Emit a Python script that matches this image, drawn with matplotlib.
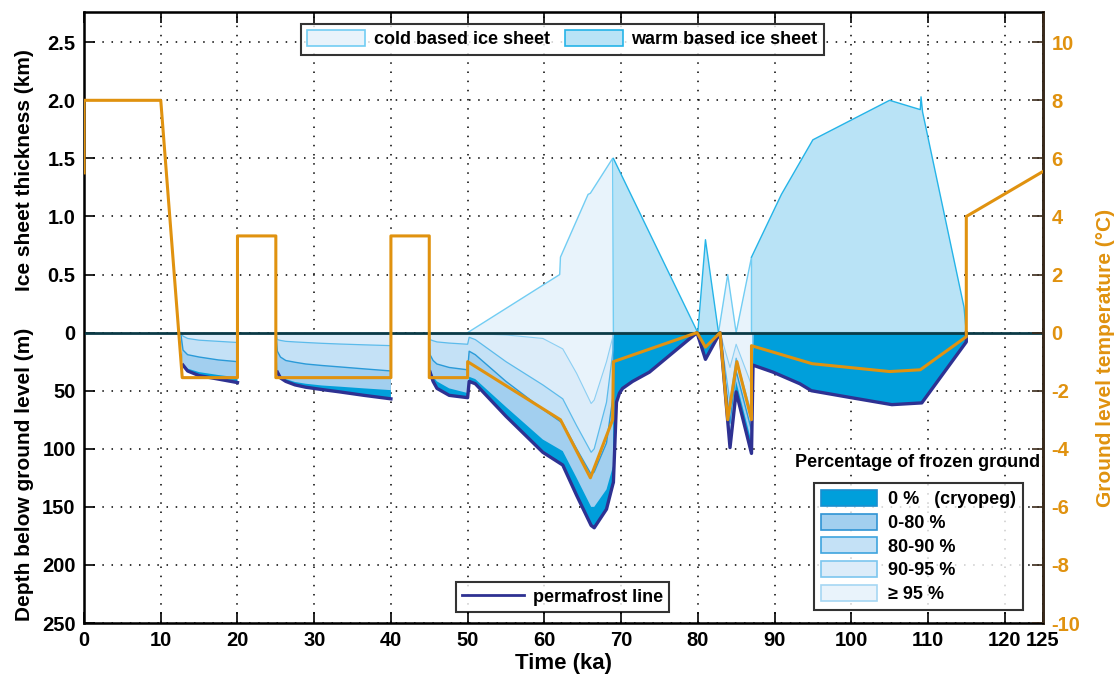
import numpy as np
import matplotlib.pyplot as plt
from matplotlib.patches import Patch
from matplotlib.lines import Line2D

plt.rcParams['font.family'] = ['Liberation Sans', 'DejaVu Sans']
plt.rcParams['font.weight'] = 'bold'
plt.rcParams['axes.unicode_minus'] = False

nan = np.nan

# ice sheet thickness (km)
cold_t = [50, 62.0, 62.1, 65.7, 66.0, 68.9, 69.0]
cold_h = [0, 0.50, 0.65, 1.19, 1.20, 1.50, 0]
cold2_t = [82.7, 83.9, 85.0, 87.0, 87.0]
cold2_h = [0, 0.50, 0, 0.65, 0]
warm_t = [69.0, 80.0, 81.0, 82.7, nan, 87.0, 90.9, 95.0, 105.0, 109.0, 109.1, 109.3, 114.7, 115.0]
warm_h = [1.50, 0, 0.80, 0, nan, 0.65, 1.19, 1.66, 2.00, 1.92, 2.03, 1.90, 0.22, 0]

# ground level temperature (degC)
temp_t = [0, 0, 10, 12.8, 20, 20, 25, 25, 40, 40, 45, 45, 50, 50, 62.1, 66.0, 68.9, 69.0,
          79.9, 81.0, 82.9, 83.9, 85.1, 87.0, 87.0, 94.9, 105.0, 109.0, 115.0, 115.0, 125]
temp = [5.5, 8.0, 8.0, -1.55, -1.55, 3.33, 3.33, -1.55, -1.55, 3.33, 3.33, -1.55, -1.55, -1.0,
        -3.0, -5.0, -3.0, -1.0, 0, -0.5, 0, -3.0, -1.0, -3.0, -0.45, -1.07, -1.34, -1.28,
        -0.14, 4.0, 5.55]

# depth of frozen ground classes below ground level (m); NaN separates periods
t_g = [12.6, 12.9, 13.5, 15, 17.5, 20, nan,
       25.0, 25.2, 25.6, 26.3, 27.5, 28.9, 31, 33.3, 36.5, 40, nan,
       44.9, 45.1, 45.5, 46, 47.6, 50.0, 50.2, 51, 55, 59.8, 62.4, 64.2, 66.1, 66.5, 68.1, 68.95,
       69.0, 69.4, 69.8, 70.2, 71.5, 73.7, 79.9, 81.0, 82.9, 84.2, 85.0, 87.0, 87.2, 89.8, 93.3,
       94.8, 100, 105.3, 109.2, 115.0, 115.0]
perma = [0, 28, 33, 37, 40, 43, nan,
         0, 34, 39, 42, 45, 47, 49, 51, 54, 57, nan,
         0, 34, 42, 48, 54, 56, 42, 44, 72, 103, 114, 140, 166, 168, 152, 130,
         129, 60, 52, 48, 42, 34, 0, 23, 0, 99, 51, 104, 28, 34, 44,
         50, 56, 62, 60.5, 8, 0]
base_0 = [0, 27, 31, 34, 36.5, 38.5, nan,
          0, 33, 37.5, 40, 42.5, 44, 45.5, 46.5, 48, 49.5, nan,
          0, 31, 38, 42, 48, 52, 38, 40, 64, 92, 102, 125, 150, 150, 135, 115,
          0, 0, 0, 0, 0, 0, 0, 0, 0, 88, 42, 94, 0, 0, 0,
          0, 0, 0, 0, 0, 0]
base_80 = [0, 15, 19, 21, 23.5, 25, nan,
           0, 16, 21, 24, 25.5, 27, 28.3, 29.5, 31.2, 33, nan,
           0, 19, 24, 27, 30, 32, 16, 19, 42, 66, 78, 100, 122, 120, 95, 55,
           0, 0, 0, 0, 0, 0, 0, 0, 0, 78, 33, 84, 0, 0, 0,
           0, 0, 0, 0, 0, 0]
base_90 = [0, 3, 5, 6.5, 7.5, 8.5, nan,
           0, 6, 6.7, 7.5, 8, 8.5, 9.2, 9.8, 10.5, 11.2, nan,
           0, 6, 7, 8, 9, 10, 4, 6, 25, 45, 57, 80, 103, 100, 60, 15,
           0, 0, 0, 0, 0, 0, 0, 0, 0, 60, 22, 70, 0, 0, 0,
           0, 0, 0, 0, 0, 0]
base_95 = [0, 0.5, 1, 1, 1, 1, nan,
           0, 1, 1, 1, 1, 1, 1, 1, 1, 1, nan,
           0, 1, 1, 1, 1, 1, 0.5, 1, 2, 5, 14, 35, 61, 58, 25, 3,
           0, 0, 0, 0, 0, 0, 0, 0, 0, 30, 10, 45, 0, 0, 0,
           0, 0, 0, 0, 0, 0]

frozen_labels = ['0 %   (cryopeg)', '0-80 %', '80-90 %', '90-95 %', '\u2265 95 %']
frozen_fill = ['#009fdb', '#a2cfef', '#c4e1f6', '#dcecf9', '#e9f3fb']
frozen_edge = ['#1a8fd0', '#2f93d4', '#3ea4de', '#7cc6ef', '#a6d7f3']

cold_fill, cold_edge = '#e8f3fb', '#72cdf3'
warm_fill, warm_edge = '#b9e3f6', '#25b4e8'
orange = '#e0920f'
navy = '#2e3192'

t_g = np.array(t_g)
depths = [np.array(d) / -100.0 for d in (perma, base_0, base_80, base_90, base_95)]

fig = plt.figure(figsize=(11.19, 6.8), dpi=100)
ax = fig.add_axes([0.0751, 0.0838, 0.8570, 0.8985])
ax.set_xlim(0, 125)
ax.set_ylim(-2.5, 2.76)

# frozen ground layers, deepest first
for k in range(5):
    ax.fill_between(t_g, depths[k], 0, facecolor=frozen_fill[k], edgecolor='none', zorder=2)
ax.plot(t_g, depths[2], color='#2a9ad8', lw=1.0, zorder=3)
ax.plot(t_g, depths[3], color='#5cbbeb', lw=0.9, zorder=3)
ax.plot(t_g, depths[4], color='#8ccff3', lw=0.8, zorder=3)

# permafrost line, not drawn along the steep start of each period
pf_line = depths[0].copy()
for i in range(len(pf_line)):
    if i == 0 or np.isnan(depths[0][i - 1]):
        pf_line[i] = nan
ax.plot(t_g, pf_line, color=navy, lw=2.4, zorder=4, solid_joinstyle='round')

# ice sheets
ax.fill_between(cold_t, cold_h, 0, facecolor=cold_fill, edgecolor='none', zorder=2)
ax.plot(cold_t, cold_h, color=cold_edge, lw=1.0, zorder=3)
ax.fill_between(cold2_t, cold2_h, 0, facecolor=cold_fill, edgecolor='none', zorder=2)
ax.plot(cold2_t, cold2_h, color=cold_edge, lw=1.0, zorder=3)
ax.fill_between(warm_t, warm_h, 0, facecolor=warm_fill, edgecolor='none', zorder=2)
ax.plot(warm_t, warm_h, color=warm_edge, lw=1.0, zorder=3)

ax.axhline(0, color='#0b3a46', lw=2.0, zorder=5)

# axes and grid
xt = list(range(0, 121, 10)) + [125]
ax.set_xticks(xt)
ax.set_xticklabels([str(v) for v in xt])
yt = [2.5, 2.0, 1.5, 1.0, 0.5, 0, -0.5, -1.0, -1.5, -2.0, -2.5]
ax.set_yticks(yt)
ax.set_yticklabels(['2.5', '2.0', '1.5', '1.0', '0.5', '0', '50', '100', '150', '200', '250'])
ax.set_axisbelow(True)
ax.grid(True, color='black', linestyle=(0, (1, 5)), lw=1.1)
ax.tick_params(axis='both', direction='in', length=8, width=1.2, labelsize=14.5, top=True, pad=6)
for s in ax.spines.values():
    s.set_linewidth(1.8)
ax.set_xlabel('Time (ka)', fontsize=16, fontweight='bold', labelpad=2)

fig.text(0.022, 0.75, 'Ice sheet thickness (km)', rotation=90, ha='center', va='center',
         fontsize=15, fontweight='bold')
fig.text(0.022, 0.303, 'Depth below ground level (m)', rotation=90, ha='center', va='center',
         fontsize=15, fontweight='bold')

ax2 = ax.twinx()
ax2.set_ylim(-10, 11.04)
ax2.set_yticks(range(-10, 11, 2))
ax2.plot(temp_t, temp, color=orange, lw=2.2, zorder=6)
ax2.tick_params(axis='y', direction='in', length=8, width=1.2, colors='#3b2a1a',
                labelcolor=orange, labelsize=14.5, pad=6)
ax2.spines['right'].set_color('#3b2a1a')
ax2.spines['right'].set_linewidth(1.8)
fig.text(0.988, 0.474, 'Ground level temperature (\u00b0C)', rotation=90, ha='center',
         va='center', fontsize=15, fontweight='bold', color=orange)

# legends
ice_handles = [Patch(facecolor=cold_fill, edgecolor=cold_edge, lw=1.2),
               Patch(facecolor=warm_fill, edgecolor=warm_edge, lw=1.2)]
leg1 = ax2.legend(ice_handles, ['cold based ice sheet', 'warm based ice sheet'], ncol=2,
                  loc='upper center', bbox_to_anchor=(0.499, 0.981), fontsize=13,
                  frameon=True, fancybox=False, edgecolor='black', handlelength=3.2,
                  handleheight=1.0, columnspacing=0.8, handletextpad=0.5, borderpad=0.35,
                  borderaxespad=0)
leg1.get_frame().set_linewidth(1.5)
ax2.add_artist(leg1)

leg2 = ax2.legend([Line2D([0], [0], color=navy, lw=2)], ['permafrost line'],
                  loc='lower center', bbox_to_anchor=(0.499, 0.018), fontsize=13,
                  frameon=True, fancybox=False, edgecolor='black', handlelength=3.4,
                  handletextpad=0.5, borderpad=0.35, borderaxespad=0)
leg2.get_frame().set_linewidth(1.5)
ax2.add_artist(leg2)

frozen_handles = [Patch(facecolor=f, edgecolor=e, lw=1.2) for f, e in zip(frozen_fill, frozen_edge)]
leg3 = ax2.legend(frozen_handles, frozen_labels, loc='lower right',
                  bbox_to_anchor=(0.979, 0.021), fontsize=13, frameon=True, fancybox=False,
                  edgecolor='black', handlelength=3.1, handleheight=1.0, labelspacing=0.3,
                  handletextpad=0.6, borderpad=0.4, borderaxespad=0)
leg3.get_frame().set_linewidth(1.5)
ax2.text(0.869, 0.262, 'Percentage of frozen ground', transform=ax2.transAxes,
         ha='center', va='center', fontsize=13, fontweight='bold')

fig.savefig('out.png', dpi=100)
